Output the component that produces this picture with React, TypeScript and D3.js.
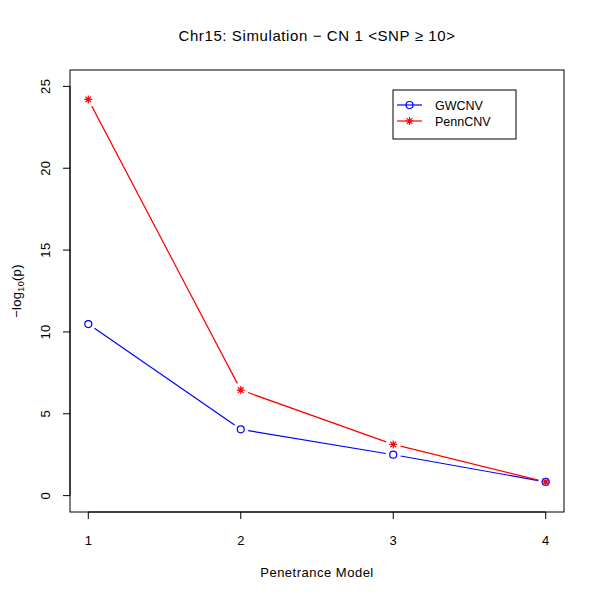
import React, { useEffect, useRef } from "react";
import * as d3 from "d3";

const models = [1, 2, 3, 4];
const gwcnv = [10.48, 4.05, 2.5, 0.84];
const penncnv = [24.2, 6.45, 3.13, 0.84];
const yTicks = [0, 5, 10, 15, 20, 25];
const seriesNames = ["GWCNV", "PennCNV"];
const seriesColors = ["#0000ff", "#ff0000"];

const FONT = "'Liberation Sans', Arial, Helvetica, sans-serif";

const App: React.FC = () => {
  const svgRef = useRef<SVGSVGElement>(null);

  useEffect(() => {
    if (!svgRef.current) return;
    const svg = d3.select(svgRef.current);
    svg.selectAll("*").remove();

    const box = { left: 70, right: 564, top: 70, bottom: 512 };

    // R style: 4% extension of the ranges
    const x = d3.scaleLinear().domain([0.88, 4.12]).range([box.left, box.right]);
    const y = d3.scaleLinear().domain([-1, 26]).range([box.bottom, box.top]);

    svg.append("rect")
      .attr("width", 600).attr("height", 600).attr("fill", "#ffffff");

    // asterisk symbol (pch 8)
    const star = (g: any, cx: number, cy: number, color: string) => {
      const r = 4;
      const d = r * 0.7071;
      const p = `M${cx - r},${cy}L${cx + r},${cy}M${cx},${cy - r}L${cx},${cy + r}` +
        `M${cx - d},${cy - d}L${cx + d},${cy + d}M${cx - d},${cy + d}L${cx + d},${cy - d}`;
      g.append("path").attr("d", p).attr("stroke", color).attr("stroke-width", 1.2).attr("fill", "none");
    };
    const circle = (g: any, cx: number, cy: number, color: string) => {
      g.append("circle").attr("cx", cx).attr("cy", cy).attr("r", 3.5)
        .attr("fill", "none").attr("stroke", color).attr("stroke-width", 1.2);
    };

    const plot = svg.append("g");

    const allSeries = [gwcnv, penncnv];
    allSeries.forEach((vals, si) => {
      const color = seriesColors[si];
      // type="b": segments leave a gap round each point
      models.forEach((m, i) => {
        if (i === models.length - 1) return;
        const x0 = x(m), y0 = y(vals[i]);
        const x1 = x(models[i + 1]), y1 = y(vals[i + 1]);
        const len = Math.hypot(x1 - x0, y1 - y0);
        const gap = 7.5;
        if (len <= 2 * gap) return;
        const ux = (x1 - x0) / len, uy = (y1 - y0) / len;
        plot.append("line")
          .attr("x1", x0 + ux * gap).attr("y1", y0 + uy * gap)
          .attr("x2", x1 - ux * gap).attr("y2", y1 - uy * gap)
          .attr("stroke", color).attr("stroke-width", 1.2);
      });
      vals.forEach((v, i) => {
        if (si === 0) circle(plot, x(models[i]), y(v), color);
        else star(plot, x(models[i]), y(v), color);
      });
    });

    // box
    svg.append("rect")
      .attr("x", box.left).attr("y", box.top)
      .attr("width", box.right - box.left).attr("height", box.bottom - box.top)
      .attr("fill", "none").attr("stroke", "#000").attr("stroke-width", 1);

    // x axis
    const xAxis = svg.append("g");
    xAxis.append("line")
      .attr("x1", x(1)).attr("x2", x(4))
      .attr("y1", box.bottom).attr("y2", box.bottom)
      .attr("stroke", "#000");
    models.forEach(m => {
      xAxis.append("line")
        .attr("x1", x(m)).attr("x2", x(m))
        .attr("y1", box.bottom).attr("y2", box.bottom + 7)
        .attr("stroke", "#000");
      xAxis.append("text")
        .attr("x", x(m)).attr("y", 545)
        .attr("text-anchor", "middle")
        .style("font-family", FONT).style("font-size", "13px")
        .text(String(m));
    });

    // y axis
    const yAxis = svg.append("g");
    yAxis.append("line")
      .attr("x1", box.left).attr("x2", box.left)
      .attr("y1", y(0)).attr("y2", y(25))
      .attr("stroke", "#000");
    yTicks.forEach(t => {
      yAxis.append("line")
        .attr("x1", box.left - 7).attr("x2", box.left)
        .attr("y1", y(t)).attr("y2", y(t))
        .attr("stroke", "#000");
      yAxis.append("text")
        .attr("transform", `translate(50,${y(t)}) rotate(-90)`)
        .attr("text-anchor", "middle")
        .style("font-family", FONT).style("font-size", "13px")
        .style("letter-spacing", "0.4px")
        .text(String(t));
    });

    // axis titles
    svg.append("text")
      .attr("x", (box.left + box.right) / 2).attr("y", 577)
      .attr("text-anchor", "middle")
      .style("font-family", FONT).style("font-size", "13px")
      .style("letter-spacing", "0.5px")
      .text("Penetrance Model");

    const yl = svg.append("text")
      .attr("transform", `translate(21,${(box.top + box.bottom) / 2}) rotate(-90)`)
      .attr("text-anchor", "middle")
      .style("font-family", FONT).style("font-size", "13px")
      .style("letter-spacing", "0.3px");
    yl.append("tspan").text("\u2212log");
    yl.append("tspan").attr("dy", 3).style("font-size", "9px").text("10");
    yl.append("tspan").attr("dy", -3).text("(p)");

    // title
    svg.append("text")
      .attr("x", (box.left + box.right) / 2).attr("y", 41)
      .attr("text-anchor", "middle")
      .style("font-family", FONT).style("font-size", "15px")
      .style("letter-spacing", "0.6px")
      .text("Chr15: Simulation \u2212 CN 1 <SNP \u2265 10>");

    // legend
    const lg = svg.append("g");
    lg.append("rect")
      .attr("x", 393).attr("y", 90).attr("width", 123).attr("height", 49)
      .attr("fill", "#fff").attr("stroke", "#000");
    seriesNames.forEach((name, i) => {
      const ly = 105 + i * 16;
      const color = seriesColors[i];
      lg.append("line")
        .attr("x1", 397).attr("x2", 422).attr("y1", ly).attr("y2", ly)
        .attr("stroke", color).attr("stroke-width", 1.2);
      if (i === 0) circle(lg, 409.5, ly, color);
      else star(lg, 409.5, ly, color);
      lg.append("text")
        .attr("x", 435).attr("y", ly + 4.5)
        .style("font-family", FONT).style("font-size", "12.5px")
        .text(name);
    });
  }, []);

  return (
    <svg
      ref={svgRef}
      width={600}
      height={600}
      style={{ position: "absolute", left: 0, top: 0, display: "block" }}
    />
  );
};

export default App;
